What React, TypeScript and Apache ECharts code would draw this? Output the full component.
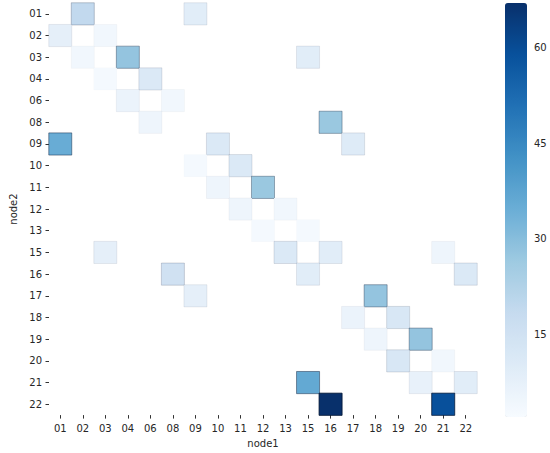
import React, { useEffect, useRef } from "react";
import * as echarts from "echarts";

const nodes = ["01", "02", "03", "04", "06", "08", "09", "10", "11", "12", "13", "15", "16", "17", "18", "19", "20", "21", "22"];

// node2 (row), node1 (column), count
const node2List = ["01", "01", "02", "02", "03", "03", "03", "04", "04", "06", "06", "08", "08", "09", "09", "09", "10", "10", "11", "11", "12", "12", "13", "13", "15", "15", "15", "15", "16", "16", "16", "17", "17", "18", "18", "19", "19", "20", "20", "21", "21", "21", "22", "22"];
const node1List = ["02", "09", "01", "03", "02", "04", "15", "03", "06", "04", "08", "06", "16", "01", "10", "17", "09", "11", "10", "12", "11", "13", "12", "15", "03", "13", "16", "21", "08", "15", "22", "09", "18", "17", "19", "18", "20", "19", "21", "15", "20", "22", "16", "21"];
const counts = [19, 9, 8, 4, 4, 28, 9, 3, 11, 6, 4, 5, 27, 35, 11, 10, 3, 11, 5, 27, 5, 4, 3, 3, 8, 11, 9, 5, 15, 9, 11, 8, 28, 6, 12, 5, 28, 12, 4, 36, 7, 9, 67, 59];

const colorTicks = [15, 30, 45, 60];
const vMin = 2;
const vMax = 67;

const blues = ["#f7fbff", "#deebf7", "#c6dbef", "#9ecae1", "#6baed6", "#4292c6", "#2171b5", "#08519c", "#08306b"];

export default function App() {
  const ref = useRef<HTMLDivElement>(null);
  useEffect(() => {
    if (!ref.current) return;
    const chart = echarts.init(ref.current, null, { renderer: "svg" });
    const data = counts.map((v, i) => {
      const t = (v - vMin) / (vMax - vMin);
      const a = Math.min(0.8, 0.85 * t);
      return {
        value: [node1List[i], node2List[i], v],
        itemStyle: { borderColor: `rgba(0,20,50,${a.toFixed(3)})`, borderWidth: 1 },
      };
    });
    const font = "DejaVu Sans";
    const txt = "#262626";
    chart.setOption({
      animation: false,
      backgroundColor: "#ffffff",
      textStyle: { fontFamily: font },
      grid: [
        { left: 38, top: 3, width: 439, height: 416, containLabel: false },
        { left: 505, top: 3, width: 22, height: 414, containLabel: false },
      ],
      xAxis: [
        {
          type: "category",
          data: nodes,
          gridIndex: 0,
          name: "node1",
          nameLocation: "middle",
          nameGap: 20,
          nameTextStyle: { fontSize: 10, color: txt, fontFamily: font },
          axisLine: { show: false },
          axisTick: { show: true, alignWithLabel: true, length: 3.5, lineStyle: { color: "#333", width: 1 } },
          axisLabel: { fontSize: 10, color: txt, margin: 8, fontFamily: font, interval: 0 },
          splitLine: { show: false },
        },
        { type: "value", gridIndex: 1, show: false, min: 0, max: 1 },
      ],
      yAxis: [
        {
          type: "category",
          data: nodes,
          inverse: true,
          gridIndex: 0,
          name: "node2",
          nameLocation: "middle",
          nameGap: 31,
          nameRotate: 90,
          nameTextStyle: { fontSize: 10, color: txt, fontFamily: font },
          axisLine: { show: false },
          axisTick: { show: true, alignWithLabel: true, length: 3.5, lineStyle: { color: "#333", width: 1 } },
          axisLabel: { fontSize: 10, color: txt, margin: 7, fontFamily: font, interval: 0 },
          splitLine: { show: false },
        },
        {
          type: "value",
          gridIndex: 1,
          position: "right",
          min: vMin,
          max: vMax,
          axisLine: { show: false },
          splitLine: { show: false },
          axisTick: { show: true, customValues: colorTicks, length: 3.5, lineStyle: { color: "#333", width: 1 } },
          axisLabel: { customValues: colorTicks, fontSize: 10, color: txt, margin: 7, fontFamily: font },
        },
      ],
      visualMap: {
        type: "continuous",
        min: vMin,
        max: vMax,
        seriesIndex: 0,
        orient: "vertical",
        left: 505,
        top: 3,
        itemWidth: 22,
        itemHeight: 414,
        padding: 0,
        calculable: false,
        hoverLink: false,
        inRange: { color: blues },
      },
      series: [
        {
          type: "heatmap",
          xAxisIndex: 0,
          yAxisIndex: 0,
          data,
          emphasis: { disabled: true },
        },
      ],
    });
    return () => chart.dispose();
  }, []);
  return <div ref={ref} style={{ position: "fixed", left: 0, top: 0, width: 550, height: 453 }} />;
}
